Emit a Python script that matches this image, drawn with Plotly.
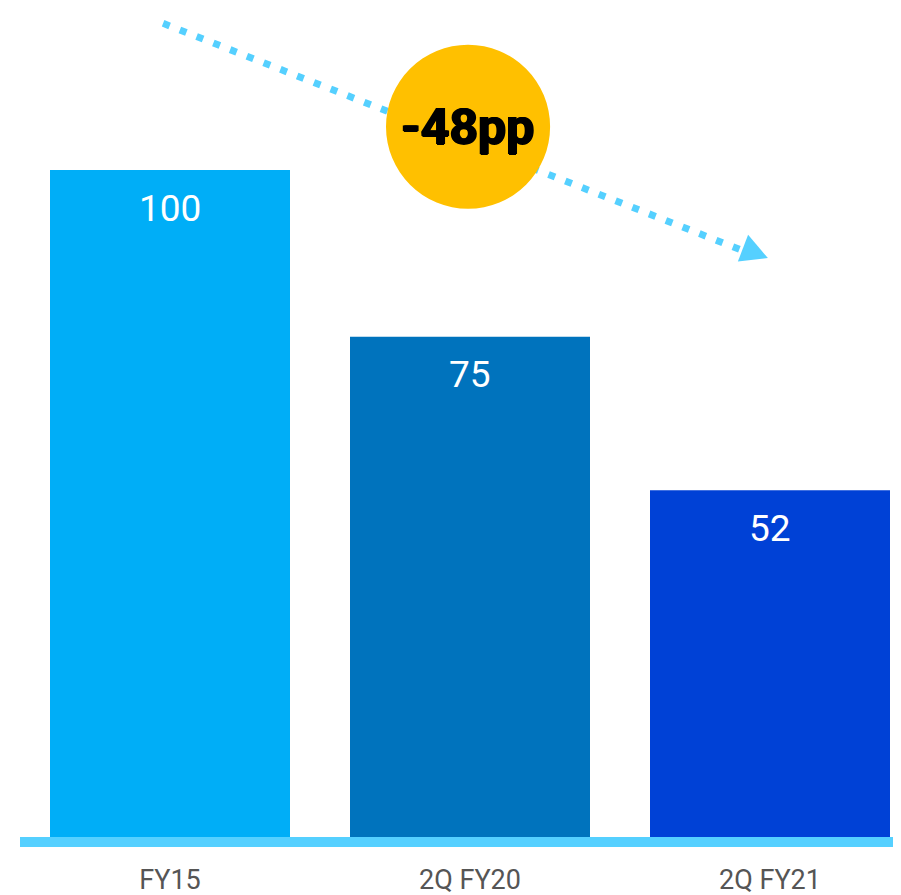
import plotly.graph_objects as go

categories = ["FY15", "2Q FY20", "2Q FY21"]
values = [100, 75, 52]
bar_colors = ["#00AEF7", "#0073BD", "#0041D6"]
change_label = "-48pp"

W, H = 901, 895
L, B, T = 12, 56, 0
x_pos = list(range(len(categories)))
px_per_unit_x = 300.0
plot_w = W - L
x_range = [-0.5, -0.5 + plot_w / px_per_unit_x]
y_range = [-1.5, 124.3]

fig = go.Figure()
fig.add_trace(go.Bar(
    x=x_pos, y=values, marker=dict(color=bar_colors, line=dict(width=0)),
    width=0.8, hoverinfo="skip", showlegend=False,
))

for xi, v in zip(x_pos, values):
    fig.add_annotation(x=xi, y=v, text=str(v), showarrow=False, yshift=-38,
                       yanchor="middle",
                       font=dict(family="Roboto, sans-serif", size=37, color="white"))

shapes = []
# baseline
shapes.append(dict(type="rect", xref="paper", yref="y", x0=0, x1=1, y0=-1.5, y1=0,
                   fillcolor="#55D0FF", line=dict(width=0), layer="above"))
# dotted trend line
shapes.append(dict(type="line", xref="x", yref="y", x0=-0.023, y0=122.0, x1=1.905, y1=88.0,
                   line=dict(color="#55D0FF", width=7, dash="7px,11px")))
# arrow head
shapes.append(dict(type="path", xref="x", yref="y",
                   path="M 1.993 86.8 L 1.927 90.3 L 1.893 86.3 Z",
                   fillcolor="#55D0FF", line=dict(width=0)))
# circle
shapes.append(dict(type="circle", xref="x", yref="y", x0=0.72, x1=1.267, y0=94.2, y1=118.8,
                   fillcolor="#FFC000", line=dict(width=0)))
fig.update_layout(shapes=shapes)

fig.add_annotation(x=0.993, y=106.5, text="<b>" + change_label + "</b>", showarrow=False,
                   font=dict(family="Roboto, sans-serif", size=50, color="black", weight=900,
                             shadow="1px 0 0 #000, -1px 0 0 #000, 0 1px 0 #000"))

fig.update_layout(
    width=W, height=H,
    margin=dict(l=L, r=0, t=T, b=B),
    paper_bgcolor="white", plot_bgcolor="white",
    xaxis=dict(range=x_range, tickvals=x_pos, ticktext=categories, showgrid=False,
               zeroline=False, showline=False, ticks="", fixedrange=True,
               ticklabelstandoff=14,
               tickfont=dict(family="Roboto, sans-serif", size=27, color="#555555")),
    yaxis=dict(range=y_range, visible=False, showgrid=False, zeroline=False, fixedrange=True),
    hovermode=False,
)

fig.write_html("out.html")
